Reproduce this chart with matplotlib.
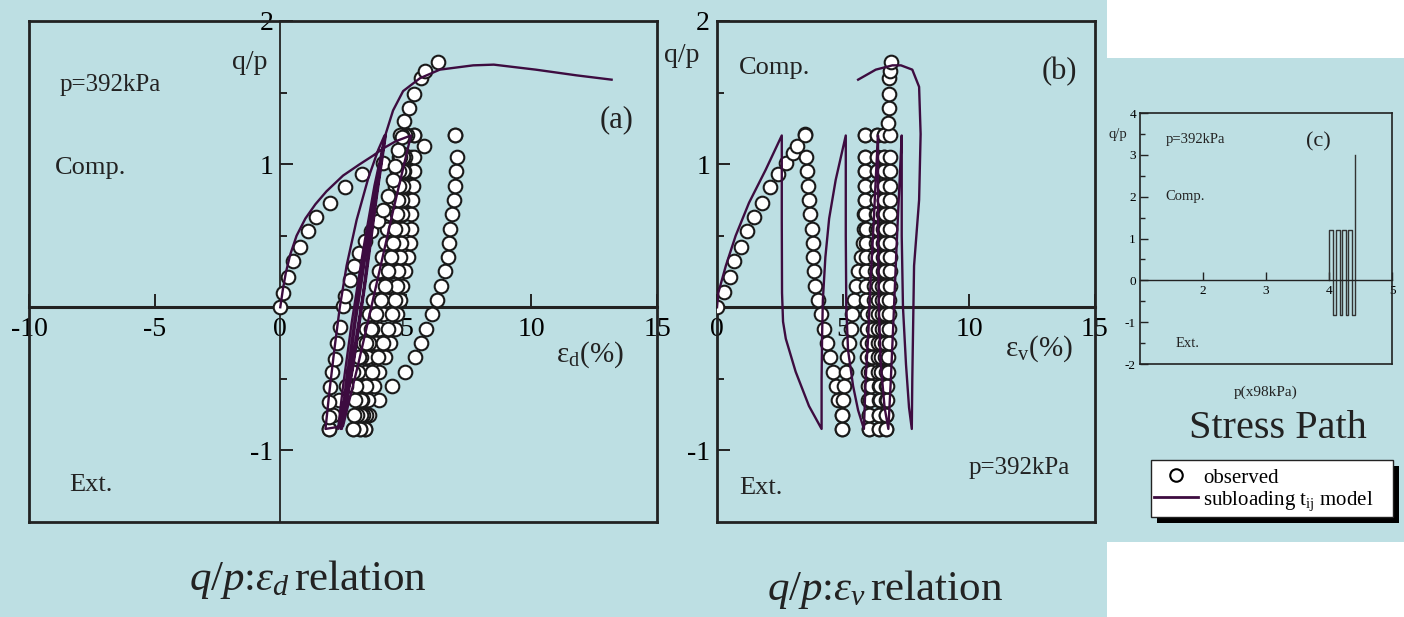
import matplotlib
matplotlib.use("Agg")
import matplotlib.pyplot as plt
from matplotlib.lines import Line2D
from matplotlib.patches import Rectangle

plt.rcParams['font.family'] = ['Liberation Serif', 'DejaVu Serif']
plt.rcParams['mathtext.fontset'] = 'custom'
plt.rcParams['mathtext.rm'] = 'Liberation Serif'
plt.rcParams['mathtext.it'] = 'Liberation Serif:italic'
plt.rcParams['axes.unicode_minus'] = False

BG = '#bddfe3'
MODEL = '#3d0c40'
INK = '#222222'

# common q/p levels used by the cyclic branches
qp_grid = [-0.85, -0.75, -0.65, -0.55, -0.45, -0.35, -0.25, -0.15, -0.05, 0.05, 0.15,
           0.25, 0.35, 0.45, 0.55, 0.65, 0.75, 0.85, 0.95, 1.05, 1.2]

# ---- (a) q/p : eps_d, observed ----
obs_a_init_x = [0, 0.11, 0.29, 0.51, 0.78, 1.11, 1.44, 1.97, 2.57, 3.27, 4.07, 4.9, 5.72, 6.95]
obs_a_init_y = [0, 0.10, 0.21, 0.32, 0.42, 0.53, 0.63, 0.73, 0.84, 0.93, 1.01, 1.07, 1.13, 1.20]
obs_a_u1 = [3.37, 3.55, 3.95, 4.45, 4.95, 5.35, 5.6, 5.82, 6.05, 6.22, 6.4, 6.55, 6.67, 6.71,
            6.76, 6.83, 6.9, 6.95, 7.0, 7.02, 6.95]
obs_a_r1 = [3.37, 3.4, 3.45, 3.52, 3.62, 3.72, 3.83, 3.95, 4.07, 4.2, 4.32, 4.44, 4.56, 4.67,
            4.78, 4.88, 4.97, 5.06, 5.14, 5.22, 5.32]
obs_a_u2 = [3.17, 3.3, 3.5, 3.72, 3.95, 4.15, 4.38, 4.55, 4.66, 4.76, 4.85, 4.95, 5.1, 5.15,
            5.19, 5.22, 5.23, 5.28, 5.31, 5.32, 5.32]
obs_a_r2 = [3.17, 3.2, 3.24, 3.3, 3.37, 3.45, 3.55, 3.66, 3.78, 3.9, 4.02, 4.14, 4.26, 4.38,
            4.5, 4.62, 4.74, 4.84, 4.92, 4.98, 5.05]
obs_a_u3 = [2.9, 3.05, 3.22, 3.42, 3.65, 3.88, 4.1, 4.3, 4.45, 4.55, 4.63, 4.7, 4.76, 4.8,
            4.85, 4.84, 4.84, 4.88, 4.89, 4.9, 4.95]
obs_a_r3 = [2.9, 2.92, 2.96, 3.02, 3.1, 3.2, 3.3, 3.42, 3.55, 3.68, 3.8, 3.92, 4.04, 4.15,
            4.25, 4.36, 4.47, 4.57, 4.66, 4.74, 4.85]
obs_a_u4 = [1.93, 2.1, 2.35, 2.62, 2.9, 3.15, 3.4, 3.62, 3.82, 4.0, 4.15, 4.28, 4.4, 4.5,
            4.58, 4.64, 4.68, 4.72, 4.74, 4.76, 4.78]
obs_a_last_x = [1.93, 1.93, 1.93, 1.97, 2.04, 2.17, 2.24, 2.37, 2.50, 2.57, 2.77, 2.95, 3.15, 3.38,
                3.62, 3.88, 4.1, 4.29, 4.47, 4.56, 4.69, 4.83, 4.93, 5.12, 5.32, 5.61, 5.78, 6.29]
obs_a_last_y = [-0.85, -0.77, -0.66, -0.56, -0.45, -0.36, -0.25, -0.14, 0.01, 0.08, 0.19, 0.29, 0.38, 0.46,
                0.53, 0.6, 0.68, 0.78, 0.89, 0.99, 1.10, 1.19, 1.30, 1.39, 1.49, 1.60, 1.65, 1.71]

# ---- (a) subloading tij model ----
model_a_x = [0, 0.1, 0.22, 0.4, 0.65, 1.0, 1.4, 1.84, 2.5, 3.17, 3.7, 4.1, 4.6, 5.2,
             4.5, 3.7, 3.1, 2.5, 1.8,
             1.95, 2.15, 2.37, 2.64, 3.04, 3.5, 3.9, 4.15,
             3.75, 3.3, 2.8, 2.3,
             2.5, 2.85, 3.3, 3.75, 4.18,
             3.8, 3.35, 2.85, 2.4,
             2.6, 2.95, 3.4, 3.8, 4.2,
             3.85, 3.4, 2.9, 2.45,
             2.65, 3.0, 3.45, 3.85, 4.16, 4.49, 4.89, 5.56, 6.35, 7.68, 8.5, 10.17, 11.8, 13.19]
model_a_y = [0, 0.12, 0.24, 0.37, 0.5, 0.62, 0.72, 0.81, 0.92, 1.0, 1.06, 1.11, 1.16, 1.2,
             0.68, 0.06, -0.4, -0.83, -0.85,
             -0.6, -0.3, 0.0, 0.29, 0.61, 0.9, 1.1, 1.2,
             0.7, 0.1, -0.45, -0.85,
             -0.55, -0.1, 0.4, 0.85, 1.2,
             0.75, 0.15, -0.45, -0.85,
             -0.55, -0.1, 0.42, 0.85, 1.2,
             0.78, 0.18, -0.42, -0.85,
             -0.55, -0.1, 0.42, 0.87, 1.19, 1.375, 1.51, 1.6, 1.66, 1.69, 1.695, 1.66, 1.62, 1.59]

# ---- (b) q/p : eps_v, observed ----
obs_b_init_x = [0, 0.28, 0.52, 0.67, 0.94, 1.2, 1.47, 1.8, 2.09, 2.42, 2.73, 3.02, 3.19, 3.5]
obs_b_init_y = [0, 0.11, 0.21, 0.32, 0.42, 0.53, 0.63, 0.73, 0.84, 0.93, 1.01, 1.08, 1.13, 1.21]
obs_b_u1 = [4.97, 4.97, 4.82, 4.74, 4.62, 4.5, 4.37, 4.25, 4.12, 4.0, 3.89, 3.85, 3.82, 3.8,
            3.75, 3.7, 3.65, 3.63, 3.56, 3.52, 3.5]
obs_b_r1 = [4.97, 4.97, 5.0, 5.04, 5.1, 5.17, 5.23, 5.3, 5.36, 5.42, 5.5, 5.6, 5.7, 5.78,
            5.82, 5.85, 5.86, 5.87, 5.87, 5.87, 5.87]
obs_b_u2 = [6.03, 6.02, 6.0, 5.99, 5.98, 5.97, 5.96, 5.95, 5.94, 5.93, 5.92, 5.92, 5.91, 5.9,
            5.9, 5.89, 5.89, 5.88, 5.88, 5.87, 5.87]
obs_b_r2 = [6.03, 6.05, 6.08, 6.1, 6.12, 6.14, 6.16, 6.18, 6.2, 6.22, 6.24, 6.26, 6.28, 6.3,
            6.31, 6.32, 6.33, 6.34, 6.35, 6.35, 6.35]
obs_b_u3 = [6.42, 6.42, 6.41, 6.41, 6.4, 6.4, 6.4, 6.39, 6.39, 6.38, 6.38, 6.38, 6.37, 6.37,
            6.37, 6.36, 6.36, 6.36, 6.35, 6.35, 6.35]
obs_b_r3 = [6.42, 6.44, 6.46, 6.48, 6.5, 6.51, 6.52, 6.53, 6.54, 6.55, 6.56, 6.57, 6.58, 6.59,
            6.6, 6.6, 6.61, 6.62, 6.62, 6.63, 6.63]
obs_b_u4 = [6.7, 6.7, 6.69, 6.69, 6.69, 6.68, 6.68, 6.68, 6.67, 6.67, 6.67, 6.66, 6.66, 6.66,
            6.65, 6.65, 6.64, 6.64, 6.64, 6.63, 6.63]
obs_b_last_x = [6.7, 6.72, 6.74, 6.76, 6.78, 6.8, 6.81, 6.82, 6.83, 6.84, 6.85, 6.85, 6.86, 6.86,
                6.86, 6.87, 6.87, 6.87, 6.87, 6.87, 6.87, 6.8, 6.83, 6.83, 6.83, 6.85, 6.89]
obs_b_last_y = qp_grid + [1.29, 1.39, 1.49, 1.6, 1.65, 1.71]

# ---- (b) model ----
model_b_x = [0, 0.05, 0.35, 0.74, 1.27, 1.93, 2.57,
             2.57, 2.58, 2.62, 2.73, 3.12, 3.65, 4.15,
             4.15, 4.17, 4.2, 4.3, 4.45, 4.71, 5.11,
             5.11, 5.13, 5.2, 5.4, 5.6, 5.83,
             5.9, 6.0, 6.1, 6.22, 6.3, 6.39,
             6.39, 6.42, 6.5, 6.65, 6.8,
             6.9, 7.0, 7.12, 7.25, 7.33,
             7.33, 7.38, 7.5, 7.62, 7.73,
             7.75, 7.82, 8.02, 8.08, 8.02, 7.75, 7.3, 6.96, 6.3, 5.6]
model_b_y = [0, 0.1, 0.29, 0.5, 0.73, 0.96, 1.2,
             0.6, 0.1, -0.1, -0.22, -0.45, -0.69, -0.85,
             -0.5, -0.2, 0.05, 0.35, 0.62, 0.89, 1.2,
             0.5, 0.0, -0.3, -0.55, -0.72, -0.85,
             -0.5, -0.2, 0.2, 0.6, 0.9, 1.2,
             0.5, 0.0, -0.4, -0.7, -0.85,
             -0.5, -0.1, 0.4, 0.9, 1.2,
             0.5, 0.0, -0.4, -0.7, -0.85,
             -0.5, 0.29, 0.75, 1.21, 1.54, 1.66, 1.69, 1.69, 1.66, 1.59]

# ---- (c) stress path ----
path_p = [4.0, 4.0, 4.06, 4.06, 4.11, 4.11, 4.17, 4.17, 4.21, 4.21, 4.27, 4.27, 4.30, 4.30,
          4.37, 4.37, 4.41, 4.41]
path_qp = [0, 1.2, 1.2, -0.83, -0.83, 1.2, 1.2, -0.83, -0.83, 1.2, 1.2, -0.83, -0.83, 1.2,
           1.2, -0.83, -0.83, 3.0]

obs_a_branches = [obs_a_u1, obs_a_r1, obs_a_u2, obs_a_r2, obs_a_u3, obs_a_r3, obs_a_u4]
obs_b_branches = [obs_b_u1, obs_b_r1, obs_b_u2, obs_b_r2, obs_b_u3, obs_b_r3, obs_b_u4]

fig = plt.figure(figsize=(14.04, 6.17), dpi=100, facecolor=BG)
# white corners of the original slide
fig.patches.append(Rectangle((0.7885, 0.906), 0.22, 0.1, transform=fig.transFigure,
                             facecolor='white', edgecolor='none', zorder=-5))
fig.patches.append(Rectangle((0.7885, 0.0), 0.22, 0.1216, transform=fig.transFigure,
                             facecolor='white', edgecolor='none', zorder=-5))


def frame_axes(ax, frame_lw, zero_lw, left_zero):
    ax.set_facecolor('none')
    for s in ['top', 'right']:
        ax.spines[s].set_linewidth(frame_lw)
        ax.spines[s].set_color(INK)
    ax.spines['bottom'].set_position(('data', 0))
    ax.spines['bottom'].set_linewidth(zero_lw)
    ax.spines['bottom'].set_color(INK)
    ax.spines['left'].set_color(INK)
    # outer frame bottom (and left if the y axis sits at x=0)
    ax.plot([0, 1], [0, 0], transform=ax.transAxes, color=INK, lw=frame_lw, clip_on=False,
            solid_capstyle='projecting')
    if left_zero:
        ax.spines['left'].set_position(('data', 0))
        ax.plot([0, 0], [0, 1], transform=ax.transAxes, color=INK, lw=frame_lw, clip_on=False,
                solid_capstyle='projecting')
    else:
        ax.spines['left'].set_linewidth(frame_lw)


def plot_obs(ax, init_x, init_y, branches, last_x, last_y):
    kw = dict(ls='none', marker='o', ms=9.8, mfc='white', mec='#1a1a1a', mew=1.5, zorder=3)
    ax.plot(init_x, init_y, **kw)
    for b in branches:
        ax.plot(b, qp_grid, **kw)
    ax.plot(last_x, last_y, **kw)


# ---------------- panel (a) ----------------
ax1 = fig.add_axes([0.0207, 0.154, 0.4473, 0.812])
ax1.set_xlim(-10, 15)
ax1.set_ylim(-1.5, 2)
frame_axes(ax1, 2.0, 2.2, True)
ax1.spines['left'].set_linewidth(1.3)
ax1.set_xticks([-10, -5, 0, 5, 10, 15])
ax1.set_yticks([-1, 1, 2])
ax1.set_yticks([-0.5, 0.5, 1.5], minor=True)
ax1.tick_params(which='major', direction='in', length=9.5, width=1.4, labelsize=20, color=INK, pad=5)
ax1.tick_params(which='minor', direction='in', length=5, width=1.4, color=INK)
ax1.tick_params(axis='x', pad=7)
plot_obs(ax1, obs_a_init_x, obs_a_init_y, obs_a_branches, obs_a_last_x, obs_a_last_y)
ax1.plot(model_a_x, model_a_y, color=MODEL, lw=1.7, zorder=4)
ax1.text(-8.8, 1.55, 'p=392kPa', fontsize=18, va='center', ha='left', color=INK)
ax1.text(-8.98, 0.97, 'Comp.', fontsize=19, va='center', ha='left', color=INK)
ax1.text(-8.39, -1.24, 'Ext.', fontsize=19, va='center', ha='left', color=INK)
ax1.text(13.4, 1.31, '(a)', fontsize=22, va='center', ha='center', color=INK)
ax1.text(-1.2, 1.71, 'q/p', fontsize=20, va='center', ha='center', color=INK)
ax1.text(12.33, -0.33, 'ε$_{\\mathrm{d}}$(%)', fontsize=21, va='center', ha='center', color=INK)

# ---------------- panel (b) ----------------
ax2 = fig.add_axes([0.5107, 0.154, 0.2692, 0.812])
ax2.set_xlim(0, 15)
ax2.set_ylim(-1.5, 2)
frame_axes(ax2, 2.0, 2.2, False)
ax2.set_xticks([0, 5, 10, 15])
ax2.set_yticks([-1, 1, 2])
ax2.set_yticks([-0.5, 0.5, 1.5], minor=True)
ax2.tick_params(which='major', direction='in', length=9.5, width=1.4, labelsize=20, color=INK, pad=5)
ax2.tick_params(which='minor', direction='in', length=5, width=1.4, color=INK)
ax2.tick_params(axis='x', pad=7)
plot_obs(ax2, obs_b_init_x, obs_b_init_y, obs_b_branches, obs_b_last_x, obs_b_last_y)
ax2.plot(model_b_x, model_b_y, color=MODEL, lw=1.7, zorder=4)
ax2.text(-1.39, 1.76, 'q/p', fontsize=20, va='center', ha='center', color=INK, clip_on=False)
ax2.text(0.87, 1.67, 'Comp.', fontsize=19, va='center', ha='left', color=INK)
ax2.text(13.57, 1.65, '(b)', fontsize=22, va='center', ha='center', color=INK)
ax2.text(12.78, -0.29, 'ε$_{\\mathrm{v}}$(%)', fontsize=21, va='center', ha='center', color=INK)
ax2.text(11.98, -1.125, 'p=392kPa', fontsize=18, va='center', ha='center', color=INK)
ax2.text(0.87, -1.26, 'Ext.', fontsize=19, va='center', ha='left', color=INK)

# ---------------- panel (c) ----------------
ax3 = fig.add_axes([0.812, 0.41, 0.1795, 0.4068])
ax3.set_xlim(1, 5)
ax3.set_ylim(-2, 4)
frame_axes(ax3, 1.2, 1.0, False)
ax3.set_xticks([2, 3, 4, 5])
ax3.set_yticks([-2, -1, 0, 1, 2, 3, 4])
ax3.set_yticks([-1.5, -0.5, 0.5, 1.5, 2.5, 3.5], minor=True)
ax3.tick_params(which='major', direction='in', length=5.5, width=1.0, labelsize=9.5, color=INK, pad=3)
ax3.tick_params(which='minor', direction='in', length=3.5, width=1.0, color=INK)
ax3.plot(path_p, path_qp, color='#333333', lw=1.0)
ax3.text(0.65, 3.48, 'q/p', fontsize=10.5, va='center', ha='center', color=INK, clip_on=False)
ax3.text(1.4, 3.36, 'p=392kPa', fontsize=10.5, va='center', ha='left', color=INK)
ax3.text(1.4, 2.0, 'Comp.', fontsize=10.5, va='center', ha='left', color=INK)
ax3.text(1.57, -1.52, 'Ext.', fontsize=10.5, va='center', ha='left', color=INK)
ax3.text(3.83, 3.31, '(c)', fontsize=16, va='center', ha='center', color=INK)
ax3.text(3.0, -2.67, 'p(x98kPa)', fontsize=11, va='center', ha='center', color=INK, clip_on=False)

# ---------------- captions ----------------
fig.text(0.219, 0.06, '$q/p$:$\\varepsilon_d\\,$relation', fontsize=31, ha='center', va='center', color=INK)
fig.text(0.630, 0.044, '$q/p$:$\\varepsilon_v\\,$relation', fontsize=31, ha='center', va='center', color=INK)
fig.text(0.910, 0.306, 'Stress Path', fontsize=29, ha='center', va='center', color=INK)

# legend box with hard shadow
fig.patches.append(Rectangle((1157 / 1404, 1 - 523 / 617), 242 / 1404, 57 / 617,
                             transform=fig.transFigure, facecolor='black', edgecolor='none', zorder=1))
fig.patches.append(Rectangle((1151 / 1404, 1 - 517 / 617), 242 / 1404, 57 / 617,
                             transform=fig.transFigure, facecolor='white', edgecolor=INK, lw=1.0, zorder=2))
handles = [Line2D([], [], ls='none', marker='o', ms=9, mfc='white', mec='black', mew=1.5),
           Line2D([], [], color=MODEL, lw=2)]
fig.legend(handles, ['observed', 'subloading t$_{\\mathrm{ij}}$ model'], loc='upper left',
           bbox_to_anchor=(1154 / 1404, 1 - 468 / 617), frameon=False, fontsize=15,
           handlelength=2.1, handletextpad=0.25, labelspacing=0.08, borderpad=0.0,
           borderaxespad=0.0)

fig.savefig('out.png', dpi=100, facecolor=BG)
